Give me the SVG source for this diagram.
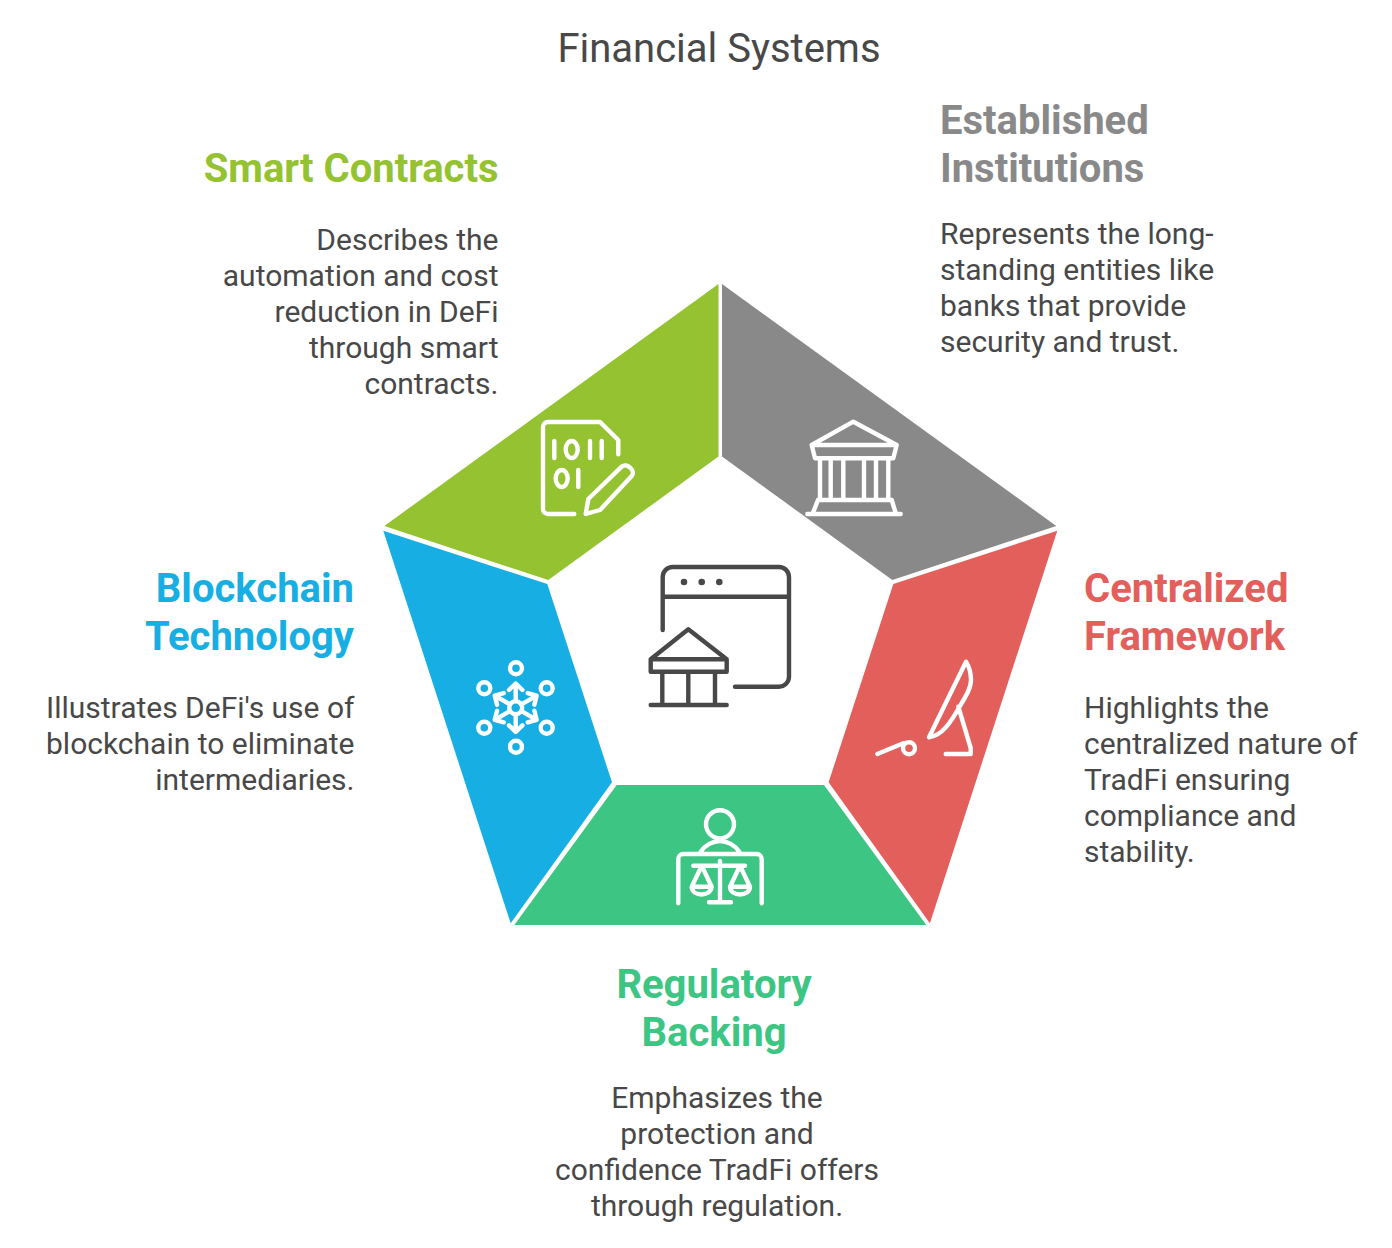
<svg xmlns="http://www.w3.org/2000/svg" width="1392" height="1248" viewBox="0 0 1392 1248">
<style>
text{font-family:Roboto,"Liberation Sans",sans-serif}
.t{font-size:40px;fill:#484848}
.h{font-size:40px;font-weight:700}
.b{font-size:30px;fill:#484848}
.e{text-anchor:end}.m{text-anchor:middle}
.w{fill:none;stroke:#fff;stroke-width:4.400;stroke-linecap:round;stroke-linejoin:round}
.d{fill:none;stroke:#484848;stroke-width:4.400;stroke-linecap:round;stroke-linejoin:round}
</style>
<rect width="1392" height="1248" fill="#fff"/>
<text class="t m" x="719" y="62">Financial Systems</text>
<g id="smart-contracts">
<polygon points="718.500,284 718.500,456.500 548.300,580 384.300,526" fill="#94C231"/>
<path class="w" d="M574.300,514H548a5,5 0 0 1-5-5V427a5,5 0 0 1 5-5H600L618.300,440V454.300"/>
<path class="w" d="M585.700,514L588.300,499L621.700,466.700C627,462 636,471 631.700,476L600,510ZM554.300,441V458M590,441V458M601.700,441V458M578.300,470V487"/>
<ellipse class="w" cx="571.700" cy="449.500" rx="6" ry="8.500"/><ellipse class="w" cx="561.700" cy="478.500" rx="6" ry="8.500"/>
<text class="h e" x="498.500" y="182" fill="#94C231">Smart Contracts</text>
<text class="b e" x="498.500" y="250">Describes the</text><text class="b e" x="498.500" y="286">automation and cost</text><text class="b e" x="498.500" y="322">reduction in DeFi</text><text class="b e" x="498.500" y="358">through smart</text><text class="b e" x="498.500" y="394">contracts.</text>
</g>
<g id="established-institutions">
<polygon points="722,284 722,456.500 892.300,580 1056.300,526" fill="#898989"/>
<path class="w" d="M853.300,421.700L811.700,445L815,458.300H893.300L896.700,445ZM811.700,445H896.700M820,458.300V500M830.700,458.300V500M843.300,458.300V500M864,458.300V500M876,458.300V500M888.300,458.300V500M818,500H891.700M818,500L812.500,514M891.700,500L896,514M807.300,514H900.700"/>
<text class="h" x="940" y="134" fill="#898989">Established</text><text class="h" x="940" y="182" fill="#898989">Institutions</text>
<text class="b" x="940" y="244">Represents the long-</text><text class="b" x="940" y="280">standing entities like</text><text class="b" x="940" y="316">banks that provide</text><text class="b" x="940" y="352">security and trust.</text>
</g>
<g id="centralized-framework">
<polygon points="1057.300,530.700 893.300,584 828.600,782.300 929.900,923.300" fill="#E35F5B"/>
<path class="w" d="M966,661.700L929,737.300C942,736 951,722 960,706C966,696 971,688 971,680C971,672 968,665 966,661.700ZM958.300,706.700L970.700,748V754H945.700M877.300,754L903.300,743.300"/>
<circle class="w" cx="909" cy="748.300" r="6"/>
<text class="h" x="1084" y="602" fill="#E35F5B">Centralized</text><text class="h" x="1084" y="650" fill="#E35F5B">Framework</text>
<text class="b" x="1084" y="718">Highlights the</text><text class="b" x="1084" y="754">centralized nature of</text><text class="b" x="1084" y="790">TradFi ensuring</text><text class="b" x="1084" y="826">compliance and</text><text class="b" x="1084" y="862">stability.</text>
</g>
<g id="regulatory-backing">
<polygon points="616.700,785 824,785 926.300,925 514.300,925" fill="#3CC583"/>
<circle class="w" cx="720" cy="824.300" r="14"/>
<path class="w" d="M700.700,851.700C705,845 713,841 720,841C727,841 735,845 739.300,851.700M678.300,903.300V859a5,5 0 0 1 5-5H756.700a5,5 0 0 1 5,5V903.300M693.300,865.700H745M720,861V902M709,902.300H731M701.700,865.700L691.700,886.700M701.700,865.700L711.700,886.700M740,865.700L730,886.700M740,865.700L750,886.700M691.700,886.700H711.700C711,897 692,897 691.700,886.700M730,886.700H750C750,897 730,897 730,886.700"/>
<text class="h m" x="714" y="998" fill="#3CC583">Regulatory</text><text class="h m" x="714" y="1046" fill="#3CC583">Backing</text>
<text class="b m" x="717" y="1108">Emphasizes the</text><text class="b m" x="717" y="1144">protection and</text><text class="b m" x="717" y="1180">confidence TradFi offers</text><text class="b m" x="717" y="1216">through regulation.</text>
</g>
<g id="blockchain-technology">
<polygon points="383.300,530.700 547.300,584 612,782.300 510.700,923.300" fill="#17AFE3"/>
<g class="w"><circle cx="516" cy="668.300" r="6"/><circle cx="484.300" cy="688.300" r="6"/><circle cx="546.700" cy="688.300" r="6"/><circle cx="484.300" cy="727.700" r="6"/><circle cx="546.700" cy="727.700" r="6"/><circle cx="516" cy="746.700" r="6"/><circle cx="515.700" cy="707.700" r="6.500"/>
<path d="M515.700,701V684M509,690L515.700,683.500L522.400,690"/>
<path transform="rotate(60 515.700 707.700)" d="M515.700,701V684M509,690L515.700,683.500L522.400,690"/>
<path transform="rotate(120 515.700 707.700)" d="M515.700,701V684M509,690L515.700,683.500L522.400,690"/>
<path transform="rotate(180 515.700 707.700)" d="M515.700,701V684M509,690L515.700,683.500L522.400,690"/>
<path transform="rotate(240 515.700 707.700)" d="M515.700,701V684M509,690L515.700,683.500L522.400,690"/>
<path transform="rotate(300 515.700 707.700)" d="M515.700,701V684M509,690L515.700,683.500L522.400,690"/></g>
<text class="h e" x="354" y="602" fill="#17AFE3">Blockchain</text><text class="h e" x="354" y="650" fill="#17AFE3">Technology</text>
<text class="b e" x="354.500" y="718">Illustrates DeFi's use of</text><text class="b e" x="354.500" y="754">blockchain to eliminate</text><text class="b e" x="354.500" y="790">intermediaries.</text>
</g>
<g id="center-icon">
<circle cx="684" cy="582" r="3.300" fill="#484848"/><circle cx="701.700" cy="582" r="3.300" fill="#484848"/><circle cx="719.300" cy="582" r="3.300" fill="#484848"/>
<path class="d" d="M662.700,630V577a10,10 0 0 1 10-10H779a10,10 0 0 1 10,10V676.700a10,10 0 0 1-10,10H735M662.700,596.700H789M688.300,629.300L650.700,659.300V671.700H726.700V659.300ZM650.700,659.300H726.700M662.300,671.700V705M688.300,671.700V705M715,671.700V705M650.700,705H726.700"/>
</g>
<g id="connectors"/>
</svg>
